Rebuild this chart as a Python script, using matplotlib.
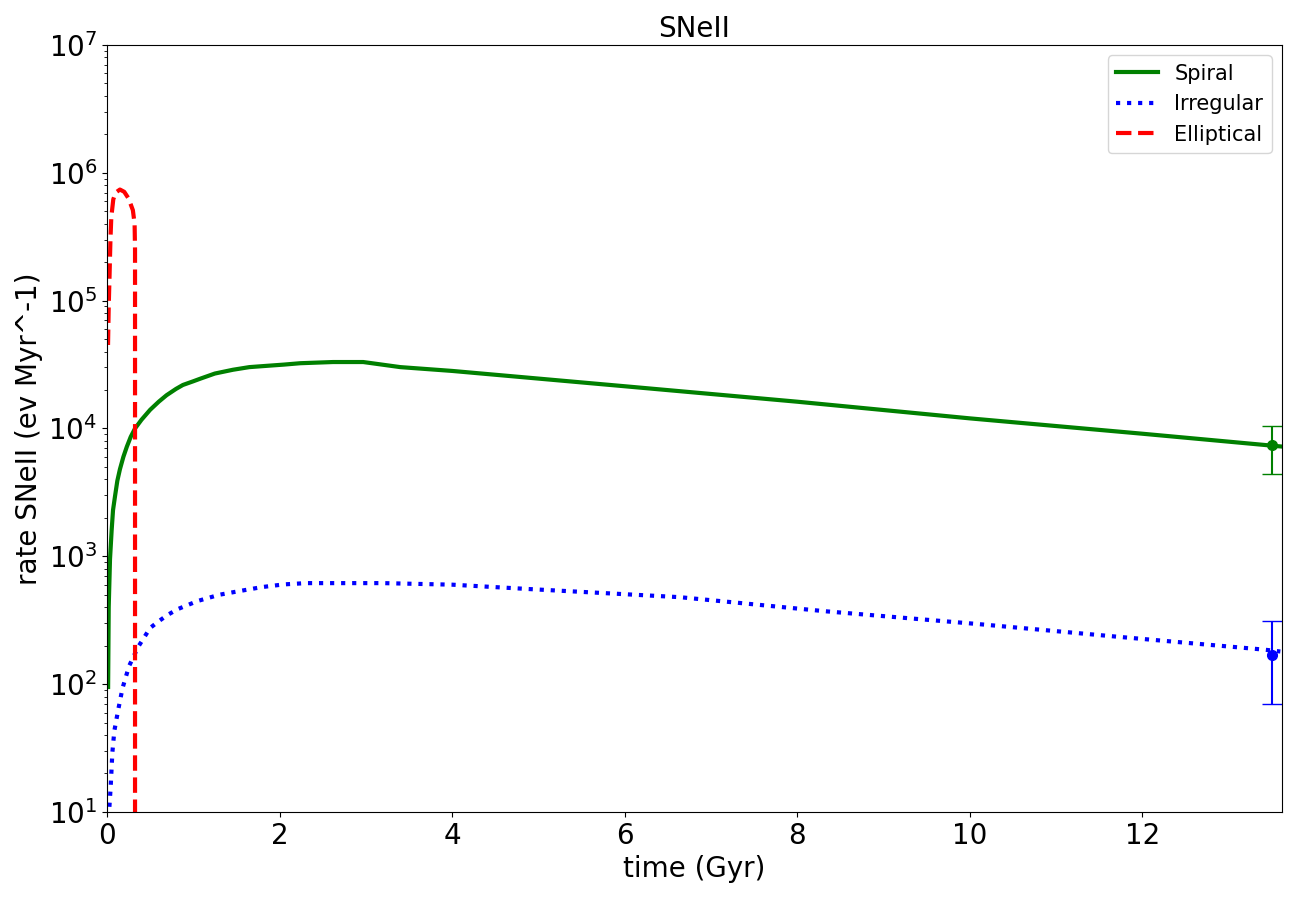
import numpy as np
import matplotlib
matplotlib.use('Agg')
import matplotlib.pyplot as plt

# Spiral SNII rate
t_spiral = [0.013, 0.02, 0.035, 0.054, 0.07, 0.093, 0.12, 0.15, 0.19, 0.23,
            0.275, 0.325, 0.4, 0.5, 0.6, 0.69, 0.8, 0.88, 1.0, 1.08, 1.25, 1.46,
            1.65, 1.85, 2.05, 2.24, 2.62, 2.97, 3.4, 4.0, 6.0, 8.0, 10.0,
            12.0, 13.6]
r_spiral = [95, 400, 950, 1600, 2300, 2950, 3900, 4800, 6000, 7200,
            8600, 10000, 11700, 14000, 16200, 18200, 20400, 21900, 23400,
            24500, 26900, 28800, 30200, 30900, 31600, 32400, 33100, 33100,
            30200, 28200, 21400, 16200, 12000, 9100, 7240]

# Irregular SNII rate
t_irr = [0.02, 0.027, 0.043, 0.062, 0.085, 0.13, 0.18, 0.255, 0.36, 0.5, 0.595,
         0.70, 0.815, 1.05, 1.30, 1.55, 1.80, 2.05, 2.31, 2.57, 3.2, 4.0, 4.86,
         6.64, 8.32, 10.1, 11.74, 13.42, 13.6]
r_irr = [9, 10.7, 15.8, 29, 43, 63, 93, 138, 195, 275, 309, 347, 385, 447, 500,
         537, 575, 603, 617, 617, 617, 600, 556, 479, 372, 295, 234, 186, 180]

# Elliptical SNII rate
t_ell = [0.012, 0.02, 0.03, 0.04, 0.05, 0.073, 0.1, 0.15, 0.2, 0.25, 0.30, 0.32,
         0.325, 0.325]
r_ell = [4.5e4, 9e4, 1.6e5, 3e5, 4.5e5, 6.2e5, 7.0e5, 7.4e5, 7.1e5, 6.3e5,
         5.1e5, 4.0e5, 2.5e5, 1]

# observed rates at present time
t_obs = 13.5
spiral_obs = 7400
spiral_err = [[3000], [3100]]
irr_obs = 170
irr_err = [[100], [143]]

fig = plt.figure(figsize=(13, 8.98), dpi=100)
ax = fig.add_axes([0.0823, 0.0958, 0.9039, 0.8541])

ax.plot(t_spiral, r_spiral, color='green', lw=3, label='Spiral')
ax.plot(t_irr, r_irr, color='blue', lw=3, ls=':', label='Irregular')
ax.plot(t_ell, r_ell, color='red', lw=3, ls='--', label='Elliptical')

ax.errorbar(t_obs, spiral_obs, yerr=spiral_err, fmt='o', color='green',
            capsize=7, ms=7, elinewidth=1.5)
ax.errorbar(t_obs, irr_obs, yerr=irr_err, fmt='o', color='blue',
            capsize=7, ms=7, elinewidth=1.5)

ax.set_yscale('log')
ax.set_ylim(10, 1e7)
ax.set_xlim(0, 13.62)
ax.tick_params(labelsize=20)
ax.set_xlabel('time (Gyr)', fontsize=20)
ax.set_ylabel('rate SNeII (ev Myr^-1)', fontsize=20)
ax.set_title('SNeII', fontsize=20)
ax.legend(loc='upper right', fontsize=15)

fig.savefig('out.png', dpi=100)
